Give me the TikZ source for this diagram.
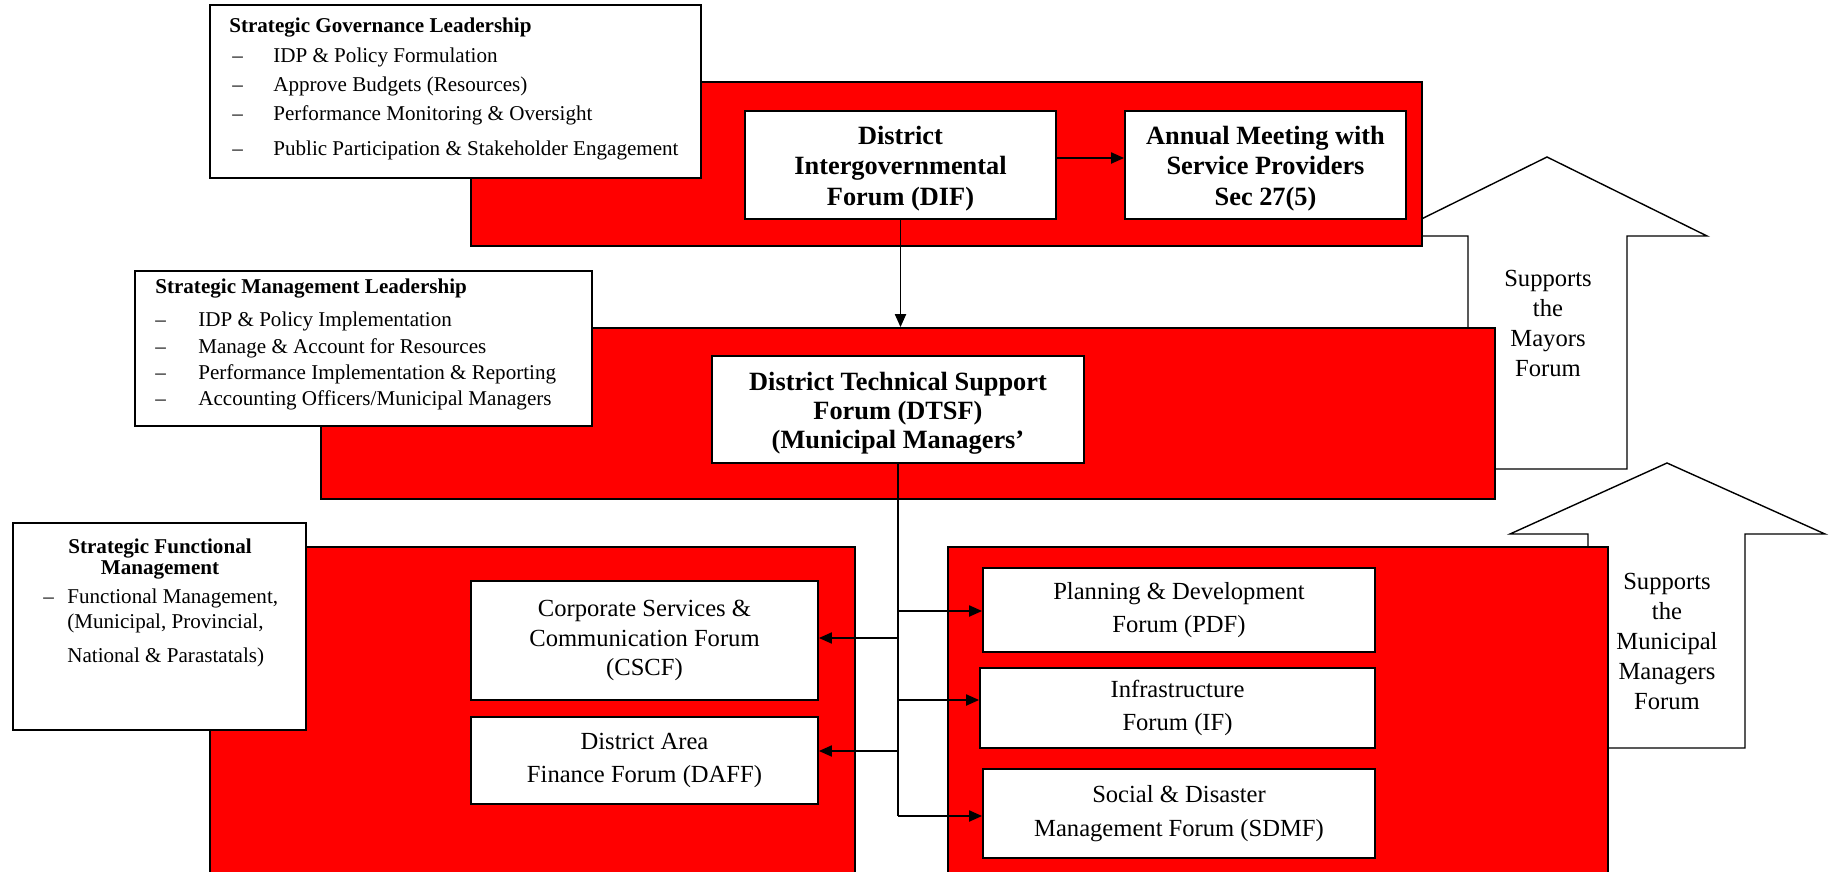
\documentclass[tikz,border=0pt]{standalone}
\usepackage{fontspec}
\setmainfont{Liberation Serif}
\usetikzlibrary{arrows.meta,fit,shadows}
\newlength{\upx}\setlength{\upx}{0.02cm}
\newcommand{\lowr}{\rule{0pt}{14.5pt}}
\begin{document}
\begin{tikzpicture}[x=0.02cm,y=-0.02cm,
  shd/.style={drop shadow={shadow xshift=0.7pt,shadow yshift=-0.7pt,fill=black,opacity=1}},
  redbox/.style={draw=black,line width=1pt,fill=red,inner sep=0pt,shd},
  whitebox/.style={draw=black,line width=1pt,fill=white,inner sep=0pt,align=center,shd},
  box/.style n args={4}{at={({(#1+#3)/2},{(#2+#4)/2})},minimum width={(#3-#1)*0.02cm},minimum height={(#4-#2)*0.02cm}},
  bigarrow/.style={draw=black,line width=0.8pt,fill=white},
  conn/.style={line width=1.1pt},
  arr/.style={conn,-{Triangle[length=0.26cm,width=0.22cm]}},
  bfont/.style={font=\bfseries\fontsize{15}{17.3}\selectfont},
  rfont/.style={font=\fontsize{14}{19}\selectfont},
  supfont/.style={font=\fontsize{14}{17}\selectfont,align=center,inner sep=0pt},
  listtxt/.style={anchor=north west,inner sep=0pt,align=left}]
\useasboundingbox (0,0) rectangle (1837,872);
\clip (0,0) rectangle (1837,872);
\fill[white] (0,0) rectangle (1837,872);

% big support arrows
\draw[bigarrow] (1468,469) -- (1468,236) -- (1387,236) -- (1547,157) -- (1707,236) -- (1627,236) -- (1627,469) -- cycle;
\draw[bigarrow] (1588,748) -- (1588,534) -- (1510,534) -- (1667,463) -- (1825,534) -- (1745,534) -- (1745,748) -- cycle;
\node[supfont,anchor=north] (sup1) at (1548,270) {Supports\\the\\Mayors\\Forum};
\node[supfont,anchor=north] (sup2) at (1667,573) {Supports\\the\\Municipal\\Managers\\Forum};

% red panels
\node[redbox,fit={(471,82) (1422,246)}] (r1) {};
\node[redbox,fit={(321,328) (1495,499)}] (r2) {};
\node[redbox,fit={(210,547) (855,885)}] (r4) {};
\node[redbox,fit={(948,547) (1608,885)}] (r3) {};

% left description boxes
\node[whitebox,box={210}{5}{701}{178}] (gov) {};
\node[listtxt,font=\fontsize{12}{16.6}\selectfont] (govtxt) at (229,18) {%
\textbf{Strategic Governance Leadership}\\
\makebox[44\upx][l]{\hspace*{3\upx}–}IDP \& Policy Formulation\\
\makebox[44\upx][l]{\hspace*{3\upx}–}Approve Budgets (Resources)\\
\makebox[44\upx][l]{\hspace*{3\upx}–}Performance Monitoring \& Oversight\\[3.5pt]
\makebox[44\upx][l]{\hspace*{3\upx}–}Public Participation \& Stakeholder Engagement};

\node[whitebox,box={135}{271}{592}{426}] (mgmt) {};
\node[listtxt,font=\fontsize{12}{15}\selectfont] (mgmttxt) at (155,279) {%
\textbf{Strategic Management Leadership}\\[3.7pt]
\makebox[43\upx][l]{–}IDP \& Policy Implementation\\
\makebox[43\upx][l]{–}Manage \& Account for Resources\\
\makebox[43\upx][l]{–}Performance Implementation \& Reporting\\
\makebox[43\upx][l]{–}Accounting Officers/Municipal Managers};

\node[whitebox,box={13}{523}{306}{730}] (func) {};
\node[anchor=north,inner sep=0pt,align=center,font=\bfseries\fontsize{12}{11.6}\selectfont] (functitle) at (160,539) {Strategic Functional\\Management};
\node[listtxt,font=\fontsize{12}{14.2}\selectfont] (functxt) at (43,589) {%
\makebox[24\upx][l]{–}Functional Management,\\
\hspace*{24\upx}(Municipal, Provincial,\\[5pt]
\hspace*{24\upx}National \& Parastatals)};

% forum boxes
\node[whitebox,bfont,box={745}{111}{1056}{219}] (dif) {\lowr District\\Intergovernmental\\Forum (DIF)};
\node[whitebox,bfont,box={1125}{111}{1406}{219}] (ann) {\lowr Annual Meeting with\\Service Providers\\Sec 27(5)};
\node[whitebox,font=\bfseries\fontsize{15}{16.6}\selectfont,box={712}{356}{1084}{463}] (dtsf) {\lowr District Technical Support\\Forum (DTSF)\\(Municipal Managers’};

\node[whitebox,font=\fontsize{14}{16.8}\selectfont,box={471}{581}{818}{700}] (cscf) {Corporate Services \&\\Communication Forum\\(CSCF)};
\node[whitebox,rfont,box={471}{717}{818}{804}] (daff) {District Area\\Finance Forum (DAFF)};
\node[whitebox,rfont,box={983}{568}{1375}{652}] (pdf) {Planning \& Development\\Forum (PDF)};
\node[whitebox,rfont,box={980}{668}{1375}{748}] (if) {Infrastructure\\Forum (IF)};
\node[whitebox,rfont,box={983}{769}{1375}{858}] (sdmf) {Social \& Disaster\\Management Forum (SDMF)};

% connectors
\draw[arr] (dif.south) -- (dif.south |- r2.north);
\draw[arr] ([yshift=0.14cm]dif.east) -- ([yshift=0.14cm]dif.east -| ann.west);
\coordinate (t1) at (898,611);
\coordinate (t2) at (898,638);
\coordinate (t3) at (898,700);
\coordinate (t4) at (898,751);
\coordinate (t5) at (898,816);
\draw[conn] (dtsf.south) -- (t5);
\draw[arr] (t1) -- (t1 -| pdf.west);
\draw[arr] (t3) -- (t3 -| if.west);
\draw[arr] (t5) -- (t5 -| sdmf.west);
\draw[arr] (t2) -- (t2 -| cscf.east);
\draw[arr] (t4) -- (t4 -| daff.east);
\end{tikzpicture}
\end{document}
